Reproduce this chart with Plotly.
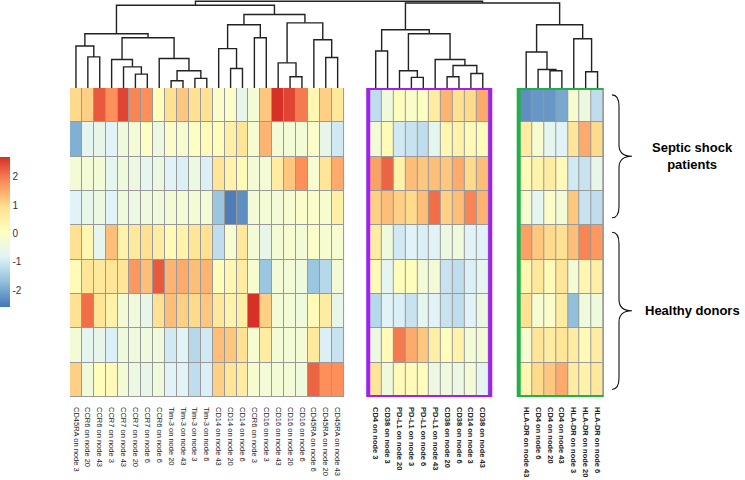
import plotly.graph_objects as go

# ---------------- data ----------------
left_labels = ["CD45RA on node 3", "CCR6 on node 20", "CCR6 on node 43", "CCR7 on node 3",
               "CCR7 on node 43", "CCR7 on node 20", "CCR7 on node 6", "CCR6 on node 6",
               "Tim-3 on node 20", "Tim-3 on node 43", "Tim-3 on node 3", "Tim-3 on node 6",
               "CD14 on node 43", "CD14 on node 20", "CD14 on node 6", "CCR6 on node 3",
               "CD16 on node 3", "CD16 on node 43", "CD16 on node 20", "CD16 on node 6",
               "CD45RA on node 6", "CD45RA on node 20", "CD45RA on node 43"]
purple_labels = ["CD4 on node 3", "CD38 on node 3", "PD-L1 on node 20", "PD-L1 on node 3",
                 "PD-L1 on node 6", "PD-L1 on node 43", "CD38 on node 20", "CD38 on node 6",
                 "CD14 on node 3", "CD38 on node 43"]
green_labels = ["HLA-DR on node 43", "CD4 on node 6", "CD4 on node 20", "CD4 on node 43",
                "HLA-DR on node 3", "HLA-DR on node 20", "HLA-DR on node 6"]

left_values = [
    [1.0, 1.1, 2.3, 1.8, 2.5, 1.9, 1.8, 0.1, 0.9, 1.2, 0.9, 0.9, -0.1, -0.1, -0.6, -0.3, 1.2, 2.7, 2.5, 2.0, 0.3, 1.1, 0.7],
    [-1.9, -0.7, -0.6, -0.8, -0.4, -0.3, 0.0, -0.5, -0.1, -0.2, 0.0, 0.2, 0.1, 0.5, 0.8, -0.2, 1.4, -0.3, -0.3, -0.3, -0.1, -0.6, -1.0],
    [-0.3, -0.3, -0.3, -0.7, -0.4, -0.5, -0.7, -0.5, -0.8, -0.9, -0.5, -0.9, 0.8, 0.4, 0.2, -0.3, -0.3, 0.6, 1.2, 1.8, -0.2, 0.8, 1.5],
    [-0.8, -0.6, -0.5, -0.8, -0.4, -0.5, -0.4, -0.4, -0.3, -0.3, -0.3, -0.3, -1.6, -2.5, -2.3, -0.3, -0.3, -0.3, -0.2, -0.1, -0.1, -0.2, 0.5],
    [0.9, 0.3, -0.7, 1.3, 0.4, 0.7, 0.9, 0.6, 0.2, 0.4, 0.8, 0.9, -1.2, -0.2, 0.7, -0.3, -0.6, -0.3, -0.2, -0.3, -0.1, -0.2, -0.2],
    [0.2, 0.8, 0.7, 0.8, 0.8, 1.7, 1.3, 2.3, 1.4, 1.5, 1.3, 1.4, 0.1, 0.3, 0.6, -0.2, -1.6, -0.3, -0.3, -0.4, -1.6, -1.3, -0.3],
    [0.9, 2.1, 0.8, 0.4, -0.3, -0.4, -0.6, 0.9, 1.3, 1.1, 1.0, 1.2, 0.7, 0.4, 0.5, 2.7, 1.1, -0.3, -0.3, -0.4, 0.2, 0.6, -0.6],
    [-0.3, -0.7, -0.6, -0.9, -0.4, -0.4, -0.4, -0.4, -1.0, -0.8, -1.3, -1.0, 1.3, 1.2, 0.9, -0.2, 0.6, -0.3, -0.3, -0.3, 0.7, -0.9, -1.1],
    [1.1, -0.4, 0.1, 0.2, -0.3, -0.5, -0.6, -0.4, -0.8, -0.8, -1.2, -0.9, 1.1, 0.8, 0.6, -0.2, -0.3, -0.3, -0.3, -0.4, 2.2, 1.8, 1.8],
]
purple_values = [
    [-1.2, -0.4, 0.1, -0.1, 0.0, 0.6, 1.4, 0.9, 1.0, 1.5],
    [-0.3, 0.2, -1.0, -1.1, -1.2, -0.7, 0.3, 0.4, 0.2, 0.1],
    [1.6, 2.2, 0.4, 1.3, 1.2, 1.3, 1.2, 1.5, 1.0, 1.3],
    [1.1, 1.3, 1.1, 1.0, 1.3, 2.1, 1.1, 1.3, 1.9, 1.4],
    [0.6, -0.4, -1.0, -0.8, -0.9, -0.8, -0.5, -0.4, -0.8, -0.8],
    [0.2, -0.7, 0.1, 0.1, -0.3, -0.3, -1.1, -1.2, -0.9, -0.7],
    [-1.3, -0.8, -0.9, -1.1, -0.7, -0.8, -1.1, -1.2, -0.8, -0.5],
    [-0.5, 0.2, 2.0, 1.5, 1.2, 0.5, 0.1, 0.4, -0.3, -0.3],
    [0.8, -0.4, 0.2, 0.2, 0.1, -0.5, -0.4, -0.5, -0.3, -0.7],
]
green_values = [
    [-2.3, -2.2, -2.2, -2.0, -0.2, -0.5, -1.2],
    [0.6, -0.2, -0.7, -0.8, 0.8, 1.5, 1.0],
    [0.2, 0.4, 0.6, 0.2, -1.0, -1.1, -0.6],
    [-0.2, -0.7, -0.1, -0.3, 1.2, -1.1, -1.2],
    [1.6, 1.2, 1.0, 0.9, 1.3, 1.9, 1.7],
    [0.3, 0.7, 0.2, 0.8, -0.3, 0.3, 0.5],
    [0.9, -0.2, -0.1, 0.6, -1.7, -0.4, -0.4],
    [-0.2, 0.8, 0.6, 0.8, 0.6, 0.2, 0.6],
    [0.3, 1.0, 1.2, 1.5, 0.6, 0.4, 0.7],
]

# row groups: (label, first row, last row)
row_groups = [("<b>Septic shock<br>patients</b>", 0, 3), ("<b>Healthy donors</b>", 4, 8)]

# column dendrogram (leaf = global column index, node = (left, right, height))
left_tree = (((0, (1, 2, 94), 127),
              ((3, (4, (5, 6, 42), 64), 86), (7, ((8, 9, 22), (10, 11, 29), 52), 89), 152), 164),
             (((12, (13, 14, 59), 119), (15, 16, 152), 191),
              ((17, (18, 19, 34), 76), (20, (21, 22, 92), 146), 197), 222), 250)
purple_tree = ((23, 24, 112),
               ((25, (26, 27, 32), 52), (28, ((29, 30, 34), (31, 32, 44), 68), 86), 164), 176)
green_tree = ((33, (34, (35, 36, 52), 56), 109), (37, (38, 39, 49), 149), 191)
col_tree = (left_tree, (purple_tree, green_tree, 257), 262)

colorscale_colors = ["#4575B4", "#91BFDB", "#E0F3F8", "#FFFFBF", "#FEE090", "#FC8D59", "#D73027"]
z_min, z_max = -2.6, 2.7
cbar_ticks = [-2, -1, 0, 1, 2]
cbar_ticktext = ["-2", "-1", "0", "1", "2"]

# ---------------- layout constants ----------------
W, H = 745, 480
GAP1, GAP2 = 2.2, 2.65
x_left = [float(i) for i in range(len(left_labels))]
p0 = x_left[-1] + 0.5 + GAP1 + 0.5
x_purple = [p0 + i for i in range(len(purple_labels))]
g0 = x_purple[-1] + 0.5 + GAP2 + 0.5
x_green = [g0 + i for i in range(len(green_labels))]
all_x = x_left + x_purple + x_green
n_rows = len(left_values)
rows = list(range(n_rows))

HM_LEFT, HM_RIGHT, HM_TOP, HM_BOT = 70, 603.5, 88, 397

fig = go.Figure()

# grey cell borders (background behind each group)
for xs in (x_left, x_purple, x_green):
    fig.add_shape(type="rect", xref="x", yref="y", x0=xs[0] - 0.5, x1=xs[-1] + 0.5,
                  y0=-0.5, y1=n_rows - 0.5, fillcolor="#999999",
                  line=dict(color="#999999", width=1), layer="below")

for xs, vals in ((x_left, left_values), (x_purple, purple_values), (x_green, green_values)):
    fig.add_trace(go.Heatmap(x=xs, y=rows, z=vals, coloraxis="coloraxis",
                             xgap=1, ygap=1, hoverinfo="skip"))

# dendrogram
dx, dy = [], []
def walk(node):
    if isinstance(node, int):
        return all_x[node], 0.0
    a, b, h = node
    xa, ha = walk(a)
    xb, hb = walk(b)
    dx.extend([xa, xa, xb, xb, None])
    dy.extend([ha, h, h, hb, None])
    return (xa + xb) / 2.0, h
walk(col_tree)
fig.add_trace(go.Scatter(x=dx, y=dy, xaxis="x", yaxis="y2", mode="lines",
                         line=dict(color="#222222", width=1.4), hoverinfo="skip",
                         showlegend=False))

# coloured boxes
for xs, col in ((x_purple, "#A020F0"), (x_green, "#22B04B")):
    fig.add_shape(type="rect", xref="x", yref="y", x0=xs[0] - 0.5 - 0.13,
                  x1=xs[-1] + 0.5 + 0.13, y0=-0.5, y1=n_rows - 0.5,
                  line=dict(color=col, width=4), fillcolor="rgba(0,0,0,0)", layer="above")

# braces + group labels
px = lambda v: v / W
r = 0.33
e, s, t = px(612), px(619), px(632)
for label, r0, r1 in row_groups:
    a = r0 - 0.5 + 0.2
    b = r1 + 0.5 - 0.22
    m = (a + b) / 2
    path = (f"M {e},{a} Q {s},{a} {s},{a + r} L {s},{m - r} Q {s},{m} {t},{m} "
            f"Q {s},{m} {s},{m + r} L {s},{b - r} Q {s},{b} {e},{b}")
    fig.add_shape(type="path", xref="paper", yref="y", path=path,
                  line=dict(color="#111111", width=1.1))
    fig.add_annotation(x=px(692), y=m, xref="paper", yref="y", text=label,
                       showarrow=False, xanchor="center", yanchor="middle",
                       font=dict(family="Arial, Liberation Sans, sans-serif", size=13,
                                 color="#000000"))

ticktext = left_labels + [f"<b>{l}</b>" for l in purple_labels] + \
           [f"<b>{l}</b>" for l in green_labels]

n = len(colorscale_colors)
fig.update_layout(
    width=W, height=H,
    margin=dict(l=0, r=0, t=0, b=0),
    paper_bgcolor="white", plot_bgcolor="white",
    showlegend=False,
    font=dict(family="Arial, Liberation Sans, sans-serif"),
    coloraxis=dict(
        colorscale=[[i / (n - 1), c] for i, c in enumerate(colorscale_colors)],
        cmin=z_min, cmax=z_max,
        colorbar=dict(x=0, xanchor="left", xpad=0, ypad=0, y=1 - 232 / H, yanchor="middle",
                      thickness=10, thicknessmode="pixels", len=150, lenmode="pixels",
                      outlinewidth=0, tickvals=cbar_ticks, ticktext=cbar_ticktext, ticks="",
                      tickfont=dict(size=10, color="#333333")),
    ),
    xaxis=dict(domain=[HM_LEFT / W, HM_RIGHT / W], range=[-0.5, x_green[-1] + 0.5],
               showgrid=False, zeroline=False, showline=False,
               tickvals=all_x, ticktext=ticktext, tickangle=90, ticks="",
               tickfont=dict(size=7.5, color="#222222"), ticklabelstandoff=9,
               automargin=False),
    yaxis=dict(domain=[1 - HM_BOT / H, 1 - HM_TOP / H], range=[n_rows - 0.5, -0.5],
               visible=False),
    yaxis2=dict(domain=[1 - HM_TOP / H, 1], range=[0, 266], visible=False, anchor="x"),
)

fig.write_html("out.html", config={"displayModeBar": False},
               post_script="document.body.style.margin='0px';document.body.style.overflow='hidden';")
